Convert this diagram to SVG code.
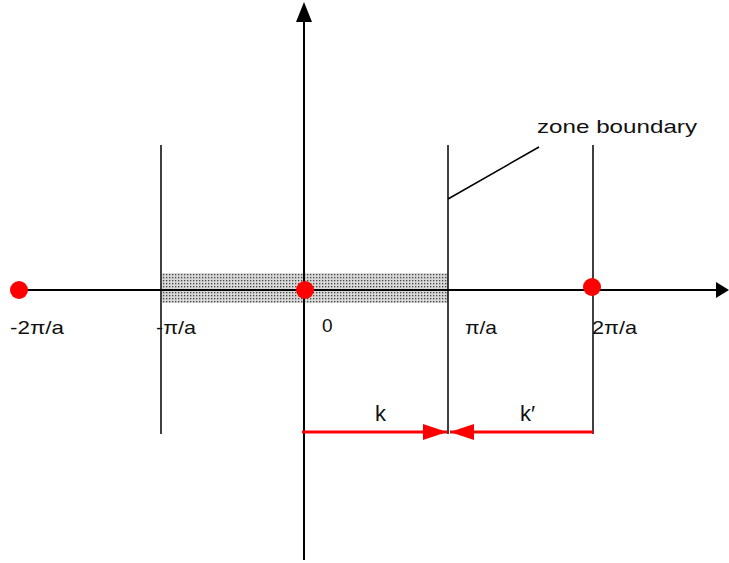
<svg xmlns="http://www.w3.org/2000/svg" width="729" height="563" viewBox="0 0 729 563">
<style>
.ax{stroke:#000;stroke-width:2;fill:none}
.ln{stroke:#000;stroke-width:1.5;fill:none}
.rd{stroke:#f00;stroke-width:3;fill:none}
.dot{fill:#f00}
.t{font-family:"Liberation Sans",Arial,sans-serif;font-size:19px;fill:#111}
.kl{font-size:22px}
</style>
<defs>
<pattern id="dots" width="3" height="3" patternUnits="userSpaceOnUse">
<rect width="3" height="3" fill="#d8d8d8"/>
<rect x="1" y="1" width="1.3" height="1.3" fill="#444"/>
</pattern>
<marker id="ahr" markerWidth="26" markerHeight="18" refX="24" refY="9" orient="auto" markerUnits="userSpaceOnUse">
<path d="M0,1 L24,9 L0,17 Z" fill="#f00"/>
</marker>
</defs>
<g id="shade"><rect x="162" y="273" width="286" height="30" fill="url(#dots)"/></g>
<g id="connectors">
<line class="ax" x1="18" y1="290" x2="716" y2="290"/>
<path d="M716,282 L729,290 L716,298 Z" fill="#000"/>
<line class="ax" x1="304" y1="20" x2="304" y2="560"/>
<path d="M304,2 L296,22 L312,22 Z" fill="#000"/>
<line class="ln" x1="161" y1="145" x2="161" y2="434"/>
<line class="ln" x1="448" y1="145" x2="448" y2="434"/>
<line class="ln" x1="593" y1="145" x2="593" y2="434"/>
<line class="ln" x1="448" y1="199" x2="539" y2="147"/>
<line class="rd" x1="302" y1="432" x2="447" y2="432" marker-end="url(#ahr)"/>
<line class="rd" x1="593" y1="432" x2="450" y2="432" marker-end="url(#ahr)"/>
</g>
<g id="points">
<circle class="dot" cx="19" cy="290" r="9"/>
<circle class="dot" cx="305" cy="290" r="9"/>
<circle class="dot" cx="592" cy="287" r="9"/>
</g>
<g id="labels">
<text class="t" x="10" y="334" textLength="54" lengthAdjust="spacingAndGlyphs">-2π/a</text>
<text class="t" x="156" y="334" textLength="40" lengthAdjust="spacingAndGlyphs">-π/a</text>
<text class="t" x="322" y="332">0</text>
<text class="t" x="465" y="334" textLength="32" lengthAdjust="spacingAndGlyphs">π/a</text>
<text class="t" x="592" y="334" textLength="45" lengthAdjust="spacingAndGlyphs">2π/a</text>
<text class="t kl" x="375" y="421">k</text>
<text class="t kl" x="520" y="421">k′</text>
<text class="t" x="537" y="133" textLength="160" lengthAdjust="spacingAndGlyphs">zone boundary</text>
</g>
</svg>
